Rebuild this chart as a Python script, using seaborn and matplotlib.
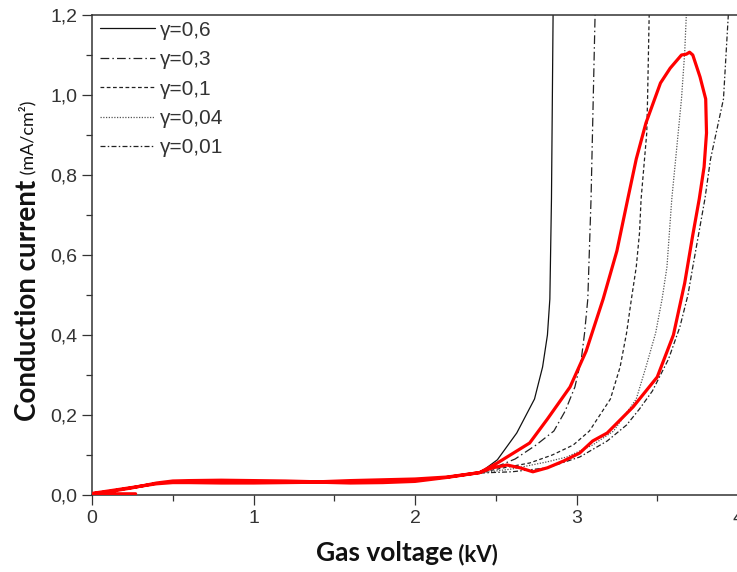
import matplotlib
matplotlib.use("Agg")
import matplotlib.pyplot as plt
from matplotlib.ticker import MultipleLocator, FuncFormatter
import seaborn as sns
import pandas as pd

# ---------------- data ----------------
red_v = [0.00, 0.10, 0.20, 0.30, 0.40, 0.50, 0.60, 0.80, 1.00, 1.20, 1.40, 1.60, 1.80, 2.00,
         2.20, 2.40, 2.48, 2.57, 2.65, 2.73, 2.82, 2.92, 3.02, 3.10, 3.19, 3.35, 3.50, 3.60,
         3.67, 3.72, 3.76, 3.79, 3.805, 3.80, 3.765, 3.72, 3.70, 3.68, 3.65, 3.58, 3.52, 3.43,
         3.37, 3.32, 3.25, 3.165, 3.06, 2.96, 2.82, 2.71, 2.65, 2.51, 2.40, 2.20, 2.00, 1.80,
         1.60, 1.40, 1.20, 1.00, 0.80, 0.60, 0.50, 0.40, 0.25, 0.10, 0.00, 0.10, 0.27]
red_i = [0.004, 0.010, 0.016, 0.022, 0.028, 0.031, 0.031, 0.030, 0.030, 0.031, 0.032, 0.030, 0.031, 0.034,
         0.044, 0.056, 0.068, 0.075, 0.068, 0.058, 0.068, 0.085, 0.105, 0.135, 0.155, 0.220, 0.295, 0.400,
         0.530, 0.650, 0.740, 0.820, 0.905, 0.990, 1.045, 1.100, 1.107, 1.102, 1.100, 1.067, 1.030, 0.930,
         0.840, 0.745, 0.610, 0.490, 0.360, 0.270, 0.190, 0.130, 0.115, 0.080, 0.056, 0.045, 0.040, 0.038,
         0.036, 0.033, 0.035, 0.036, 0.037, 0.036, 0.035, 0.030, 0.018, 0.008, 0.003, 0.003, 0.003]

g06_v = [2.20, 2.30, 2.40, 2.51, 2.63, 2.74, 2.79, 2.82, 2.835, 2.845, 2.855, 2.86]
g06_i = [0.045, 0.050, 0.055, 0.088, 0.155, 0.240, 0.320, 0.400, 0.490, 0.740, 1.200, 1.300]

g03_v = [2.20, 2.30, 2.40, 2.50, 2.62, 2.75, 2.86, 2.93, 2.99, 3.03, 3.05, 3.07, 3.09, 3.115, 3.12]
g03_i = [0.045, 0.050, 0.056, 0.070, 0.090, 0.125, 0.160, 0.210, 0.270, 0.340, 0.405, 0.490, 0.740, 1.200, 1.300]

g01_v = [2.20, 2.30, 2.40, 2.55, 2.71, 2.85, 2.98, 3.08, 3.21, 3.27, 3.31, 3.34, 3.37, 3.39, 3.40,
         3.435, 3.44, 3.45, 3.455]
g01_i = [0.045, 0.050, 0.056, 0.068, 0.080, 0.100, 0.125, 0.160, 0.240, 0.320, 0.405, 0.490, 0.570, 0.655, 0.740,
         0.905, 0.990, 1.200, 1.300]

g004_v = [2.20, 2.30, 2.40, 2.60, 2.82, 2.94, 3.10, 3.23, 3.37, 3.43, 3.49, 3.53, 3.56, 3.59, 3.65,
          3.67, 3.68, 3.685]
g004_i = [0.045, 0.050, 0.055, 0.065, 0.083, 0.095, 0.125, 0.160, 0.240, 0.320, 0.405, 0.490, 0.570, 0.740, 0.990,
          1.107, 1.200, 1.300]

g001_v = [2.20, 2.30, 2.40, 2.60, 2.82, 3.02, 3.19, 3.31, 3.39, 3.47, 3.57, 3.64, 3.69, 3.72, 3.795,
          3.83, 3.91, 3.94, 3.945]
g001_i = [0.045, 0.050, 0.055, 0.058, 0.068, 0.095, 0.135, 0.175, 0.215, 0.260, 0.340, 0.420, 0.500, 0.570, 0.740,
          0.840, 0.990, 1.200, 1.300]

gamma_labels = ["γ=0,6", "γ=0,3", "γ=0,1", "γ=0,04", "γ=0,01"]
x_ticks = [0, 1, 2, 3, 4]
y_ticks = [0.0, 0.2, 0.4, 0.6, 0.8, 1.0, 1.2]

# ---------------- style ----------------
sns.set_theme(style="ticks")
plt.rcParams["font.family"] = ["Liberation Sans", "DejaVu Sans"]

W, H = 737, 572
fig = plt.figure(figsize=(W / 100, H / 100), dpi=100)
ax = fig.add_axes([92 / W, 77 / H, 646 / W, 480 / H])

curves = [(g06_v, g06_i), (g03_v, g03_i), (g01_v, g01_i), (g004_v, g004_i), (g001_v, g001_i)]
styles = ["-", (0, (7, 2.5, 1.2, 2.5)), (0, (3, 2)), (0, (1, 1.2)), (0, (4, 1.8, 1.2, 1.8))]
colors = ["#111111", "#222222", "#222222", "#555555", "#222222"]
widths = [0.9, 0.9, 0.9, 0.9, 0.9]

handles = []
for (vv, ii), ls, c, lw, lab in zip(curves, styles, colors, widths, gamma_labels):
    df = pd.DataFrame({"v": vv, "i": ii})
    sns.lineplot(data=df, x="v", y="i", sort=False, estimator=None, color=c,
                 linestyle=ls, linewidth=lw, ax=ax, label=lab, legend=False)
    handles.append(ax.get_lines()[-1])

red_df = pd.DataFrame({"v": red_v, "i": red_i})
sns.lineplot(data=red_df, x="v", y="i", sort=False, estimator=None, color="#ff0000",
             linewidth=2.3, ax=ax, legend=False, zorder=5)

ax.set_xlim(0, 4)
ax.set_ylim(0, 1.2)
ax.set_xticks(x_ticks)
ax.set_yticks(y_ticks)
ax.xaxis.set_minor_locator(MultipleLocator(0.5))
ax.yaxis.set_minor_locator(MultipleLocator(0.1))
ax.yaxis.set_major_formatter(FuncFormatter(lambda v, p: f"{v:.1f}".replace(".", ",")))
ax.xaxis.set_major_formatter(FuncFormatter(lambda v, p: f"{v:.0f}"))

for s in ["left", "bottom", "top"]:
    ax.spines[s].set_linewidth(1.1)
    ax.spines[s].set_color("#333333")
ax.spines["right"].set_visible(False)
ax.tick_params(which="major", direction="out", length=7, width=0.9, color="#333333",
               labelsize=14, labelcolor="#333333", pad=3.5)
ax.tick_params(which="minor", direction="out", length=4, width=0.9, color="#333333")
ax.set_xlabel("")
ax.set_ylabel("")

leg = ax.legend(handles, gamma_labels, loc="upper left", bbox_to_anchor=(0.012, 0.988),
                frameon=False, fontsize=15, handlelength=2.65, handletextpad=0.24,
                borderpad=0, borderaxespad=0, labelspacing=0.5)
for t in leg.get_texts():
    t.set_color("#333333")

# axis labels (bold main part + smaller unit part)
lab_font = ["Lato", "DejaVu Sans"]
t1 = fig.text(28 / W, 1 - 300 / H, "Conduction current", rotation=90, ha="center", va="center",
              fontsize=20, fontweight="bold", family=lab_font, color="#111111")
ax.annotate(" (mA/cm²)", xy=(0.5, 1.0), xycoords=t1, rotation=90, ha="center", va="bottom",
            fontsize=13, family=lab_font, color="#111111")

t2 = fig.text(316 / W, 1 - 553 / H, "Gas voltage", ha="left", va="center",
              fontsize=19, fontweight="bold", family=lab_font, color="#111111")
ax.annotate(" (kV)", xy=(1.0, 0.0), xycoords=t2, ha="left", va="bottom",
            fontsize=16, fontweight="bold", family=lab_font, color="#111111")

fig.savefig("out.png", dpi=100)
